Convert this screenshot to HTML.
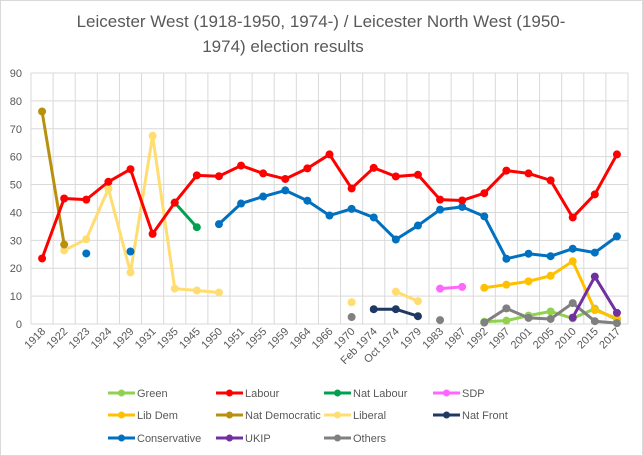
<!DOCTYPE html>
<html><head><meta charset="utf-8"><style>
body{margin:0;background:#fff}
svg{display:block;font-family:"Liberation Sans",sans-serif}
</style></head><body>
<svg id="s" width="643" height="456" xmlns="http://www.w3.org/2000/svg">
<rect x="0.5" y="0.5" width="642" height="455" fill="#fff" stroke="#d9d9d9"/>
<text x="321" y="27" text-anchor="middle" font-size="17" fill="#595959">Leicester West (1918-1950, 1974-) / Leicester North West (1950-</text>
<text x="283" y="52" text-anchor="middle" font-size="17" fill="#595959">1974) election results</text>
<g id="g"></g>
</svg>
<script>
const g=document.getElementById('g');let h='';
const L=31,R=628,T=73,B=324,n=27,cw=(R-L)/n;
const X=i=>L+cw*(i+0.5),Y=v=>B-(B-T)*v/90;
for(let k=0;k<=9;k++){const y=Y(k*10);h+=`<line x1="${L}" x2="${R}" y1="${y}" y2="${y}" stroke="#d9d9d9"/><text x="22" y="${y+4}" text-anchor="end" font-size="11" fill="#595959">${k*10}</text>`;}
for(let i=0;i<=n;i++){const x=L+cw*i;h+=`<line x1="${x}" x2="${x}" y1="${T}" y2="${B}" stroke="#d9d9d9"/>`;}
const cats=["1918","1922","1923","1924","1929","1931","1935","1945","1950","1951","1955","1959","1964","1966","1970","Feb 1974","Oct 1974","1979","1983","1987","1992","1997","2001","2005","2010","2015","2017"];
cats.forEach((c,i)=>{const x=X(i)+4,y=B+8;h+=`<text transform="translate(${x},${y}) rotate(-45)" text-anchor="end" font-size="11" fill="#595959">${c}</text>`;});
const N=null;
const S=[
["#ffdd71",[N,26.4,30.4,48.5,18.5,67.5,12.7,12,11.3,N,N,N,N,N,7.8,N,11.6,8.2]],
["#b8900e",[76.2,28.5]],
["#00a050",[N,N,N,N,N,N,43.5,34.7]],
["#0070c0",[N,N,25.3,N,26,N,N,N,35.8,43.2,45.7,47.9,44.2,38.9,41.3,38.2,30.3,35.3,41,42,38.6,23.4,25.2,24.3,27,25.6,31.4]],
["#ff0000",[23.5,45,44.6,51,55.5,32.3,43.5,53.3,53,56.8,54,52,55.8,60.8,48.6,56,52.9,53.5,44.6,44.3,46.9,55,54,51.5,38.2,46.5,60.8]],
["#1f3864",[N,N,N,N,N,N,N,N,N,N,N,N,N,N,N,5.3,5.3,2.8]],
["#ff66ff",[N,N,N,N,N,N,N,N,N,N,N,N,N,N,N,N,N,N,12.7,13.3]],
["#92d050",[N,N,N,N,N,N,N,N,N,N,N,N,N,N,N,N,N,N,N,N,0.8,1.2,3,4.5,2,5.5,1.5]],
["#ffc000",[N,N,N,N,N,N,N,N,N,N,N,N,N,N,N,N,N,N,N,N,13,14.1,15.3,17.3,22.5,5,2]],
["#808080",[N,N,N,N,N,N,N,N,N,N,N,N,N,N,2.5,N,N,N,1.4,N,0.5,5.6,2.2,1.8,7.5,1,0.3]],
["#7030a0",[N,N,N,N,N,N,N,N,N,N,N,N,N,N,N,N,N,N,N,N,N,N,N,N,2.3,17,4]]];
S.forEach(([c,d])=>{let seg=[];const flush=()=>{if(seg.length>1)h+=`<polyline points="${seg.join(' ')}" fill="none" stroke="${c}" stroke-width="3" stroke-linejoin="round"/>`;seg=[];};
d.forEach((v,i)=>{if(v==null)flush();else seg.push(X(i)+','+Y(v));});flush();
d.forEach((v,i)=>{if(v!=null)h+=`<circle cx="${X(i)}" cy="${Y(v)}" r="4" fill="${c}"/>`;});});
const lg=[["Green","#92d050"],["Labour","#ff0000"],["Nat Labour","#00a050"],["SDP","#ff66ff"],["Lib Dem","#ffc000"],["Nat Democratic","#b8900e"],["Liberal","#ffdd71"],["Nat Front","#1f3864"],["Conservative","#0070c0"],["UKIP","#7030a0"],["Others","#808080"]];
const cx=[108,216,324,433],ry=[393,415,438];
lg.forEach(([t,c],k)=>{const x=cx[k%4],y=ry[Math.floor(k/4)];h+=`<line x1="${x}" x2="${x+27}" y1="${y}" y2="${y}" stroke="${c}" stroke-width="3"/><circle cx="${x+13.5}" cy="${y}" r="3.5" fill="${c}"/><text x="${x+29}" y="${y+4}" font-size="11" fill="#595959">${t}</text>`;});
g.innerHTML=h;
</script>
</body></html>
